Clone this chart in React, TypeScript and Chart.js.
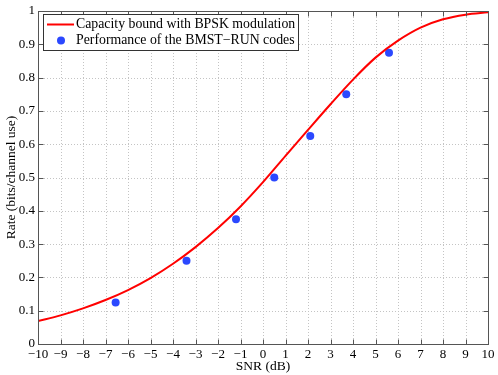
import React, { useEffect, useRef } from "react";
import { Chart, registerables } from "chart.js";

Chart.register(...registerables);

const capacitySnr = [-10, -9, -8, -7, -6, -5, -4, -3, -2, -1, 0, 1, 2, 3, 4, 5, 6, 7, 8, 9, 10];
const capacityRate = [0.069, 0.086, 0.107, 0.132, 0.162, 0.198, 0.241, 0.291, 0.348, 0.413, 0.486, 0.565, 0.643, 0.72, 0.794, 0.86, 0.911, 0.95, 0.975, 0.989, 0.996];

const codeSnr = [-6.55, -3.4, -1.2, 0.5, 2.1, 3.7, 5.6];
const codeRate = [0.125, 0.25, 0.375, 0.5, 0.625, 0.75, 0.875];

const legendLabels = ["Capacity bound with BPSK modulation", "Performance of the BMST\u2212RUN codes"];
const xTitle = "SNR (dB)";
const yTitle = "Rate (bits/channel use)";

const FONT = "'Liberation Serif', 'Times New Roman', serif";
const RED = "#ff0000";
const BLUE = "#2b48ff";
const AXIS = "#555555";

const framePlugin = {
  id: "frame",
  beforeDatasetsDraw(chart: any) {
    const { ctx, chartArea: a, scales } = chart;
    const xs = scales.x;
    const ys = scales.y;
    ctx.save();
    ctx.strokeStyle = "#c4c4c4";
    ctx.lineWidth = 1;
    ctx.setLineDash([1, 2]);
    xs.ticks.forEach((t: any) => {
      const px = Math.round(xs.getPixelForValue(t.value)) + 0.5;
      if (px <= a.left + 1 || px >= a.right - 1) return;
      ctx.beginPath();
      ctx.moveTo(px, a.top);
      ctx.lineTo(px, a.bottom);
      ctx.stroke();
    });
    ys.ticks.forEach((t: any) => {
      const py = Math.round(ys.getPixelForValue(t.value)) + 0.5;
      if (py <= a.top + 1 || py >= a.bottom - 1) return;
      ctx.beginPath();
      ctx.moveTo(a.left, py);
      ctx.lineTo(a.right, py);
      ctx.stroke();
    });
    ctx.restore();
  },
  afterDatasetsDraw(chart: any) {
    const { ctx, chartArea: a, scales } = chart;
    const xs = scales.x;
    const ys = scales.y;
    ctx.save();
    ctx.strokeStyle = AXIS;
    ctx.lineWidth = 1;
    ctx.setLineDash([]);
    const L = Math.round(a.left) + 0.5;
    const R = Math.round(a.right) + 0.5;
    const T = Math.round(a.top) + 0.5;
    const B = Math.round(a.bottom) + 0.5;
    ctx.strokeRect(L, T, R - L, B - T);
    const tl = 5;
    xs.ticks.forEach((t: any) => {
      const px = Math.round(xs.getPixelForValue(t.value)) + 0.5;
      ctx.beginPath();
      ctx.moveTo(px, B);
      ctx.lineTo(px, B - tl);
      ctx.moveTo(px, T);
      ctx.lineTo(px, T + tl);
      ctx.stroke();
    });
    ys.ticks.forEach((t: any) => {
      const py = Math.round(ys.getPixelForValue(t.value)) + 0.5;
      ctx.beginPath();
      ctx.moveTo(L, py);
      ctx.lineTo(L + tl, py);
      ctx.moveTo(R, py);
      ctx.lineTo(R - tl, py);
      ctx.stroke();
    });

    // legend
    const lx = 43.5, ly = 14.5, lw = 255, lh = 36;
    ctx.fillStyle = "#ffffff";
    ctx.fillRect(lx, ly, lw, lh);
    ctx.strokeStyle = "#333333";
    ctx.strokeRect(lx, ly, lw, lh);
    ctx.strokeStyle = RED;
    ctx.lineWidth = 2;
    ctx.beginPath();
    ctx.moveTo(47, 24.5);
    ctx.lineTo(74, 24.5);
    ctx.stroke();
    ctx.fillStyle = BLUE;
    ctx.beginPath();
    ctx.arc(61, 40.5, 4, 0, Math.PI * 2);
    ctx.fill();
    ctx.fillStyle = "#000000";
    ctx.font = `13.8px ${FONT}`;
    ctx.textBaseline = "middle";
    ctx.textAlign = "left";
    ctx.fillText(legendLabels[0], 76, 24.5);
    ctx.fillText(legendLabels[1], 76, 40.5);

    // axis titles
    ctx.font = `13.5px ${FONT}`;
    ctx.textAlign = "center";
    ctx.fillText(xTitle, (a.left + a.right) / 2, 366);
    ctx.save();
    ctx.translate(11, (a.top + a.bottom) / 2);
    ctx.rotate(-Math.PI / 2);
    ctx.fillText(yTitle, 0, 0);
    ctx.restore();
    ctx.restore();
  },
};

export default function App() {
  const ref = useRef<HTMLCanvasElement | null>(null);
  useEffect(() => {
    if (!ref.current) return;
    const chart = new Chart(ref.current, {
      type: "scatter",
      data: {
        datasets: [
          {
            type: "line",
            label: legendLabels[0],
            data: capacitySnr.map((x, i) => ({ x, y: capacityRate[i] })),
            borderColor: RED,
            borderWidth: 2,
            pointRadius: 0,
            cubicInterpolationMode: "monotone",
            fill: false,
          },
          {
            type: "scatter",
            label: legendLabels[1],
            data: codeSnr.map((x, i) => ({ x, y: codeRate[i] })),
            backgroundColor: BLUE,
            borderColor: BLUE,
            pointRadius: 4,
            borderWidth: 0,
          },
        ],
      } as any,
      options: {
        animation: false,
        responsive: true,
        maintainAspectRatio: false,
        layout: { padding: { top: 11, right: 10, left: 0, bottom: 0 } },
        plugins: { legend: { display: false }, tooltip: { enabled: false } },
        scales: {
          x: {
            type: "linear",
            min: -10,
            max: 10,
            grid: { display: false, drawTicks: false },
            border: { display: false },
            afterFit: (s: any) => {
              s.height = 31;
            },
            ticks: {
              stepSize: 1,
              padding: 3,
              color: "#000",
              font: { family: FONT, size: 13 },
              maxRotation: 0,
              autoSkip: false,
              callback: (v: any) => String(v).replace("-", "\u2212"),
            },
          },
          y: {
            type: "linear",
            min: 0,
            max: 1,
            grid: { display: false, drawTicks: false },
            border: { display: false },
            afterFit: (s: any) => {
              s.width = 38;
            },
            ticks: {
              stepSize: 0.1,
              padding: 3,
              color: "#000",
              font: { family: FONT, size: 13 },
              autoSkip: false,
              callback: (v: any) => String(Number(Number(v).toFixed(1))),
            },
          },
        },
      } as any,
      plugins: [framePlugin],
    });
    return () => chart.destroy();
  }, []);
  return (
    <div style={{ position: "absolute", left: 0, top: 0, width: 498, height: 375, background: "#fff" }}>
      <canvas ref={ref} />
    </div>
  );
}
